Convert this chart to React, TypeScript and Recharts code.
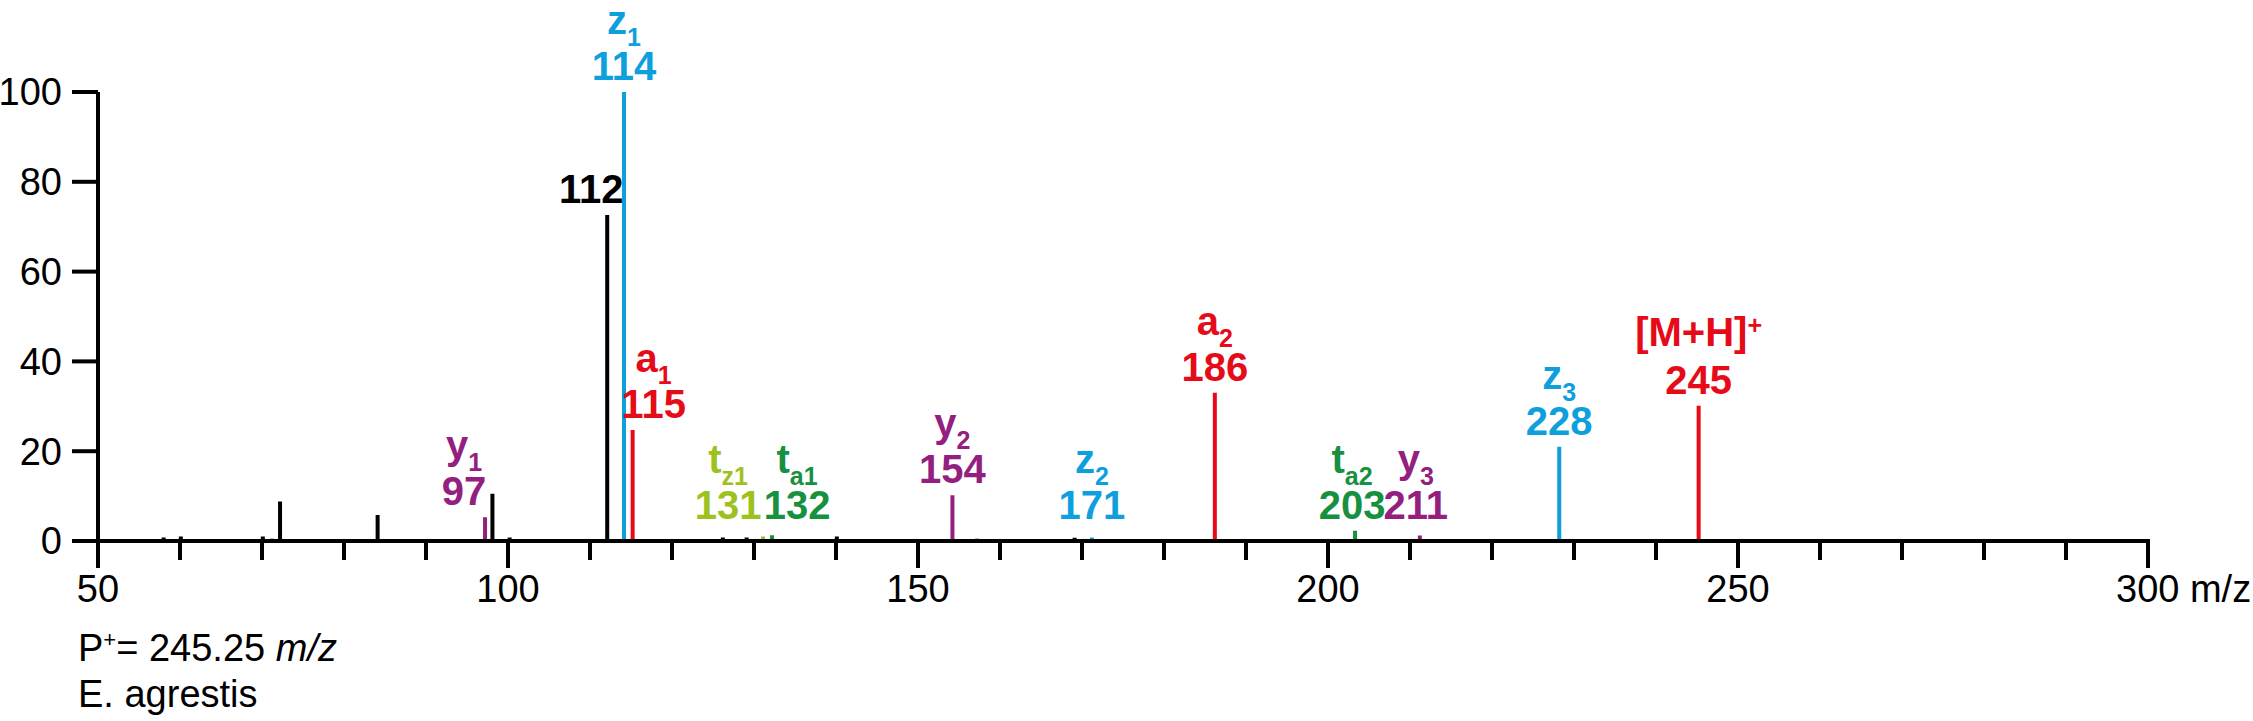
import React from 'react'
import { ComposedChart, Line, Scatter, XAxis, YAxis } from 'recharts'

const FONT = 'Arial, "Liberation Sans", Helvetica, sans-serif'

// [m/z, relative intensity %]
const otherPeaks: [number, number][] = [
  [58.0, 0.8], [60.1, 1.0], [70.1, 1.0], [71.2, 0.5], [72.2, 8.8], [84.1, 5.8],
  [98.1, 10.5], [100.2, 0.8], [112.1, 72.6], [126.2, 0.8], [129.1, 0.8],
  [140.1, 1.0], [157.2, 0.5], [169.1, 0.7], [194.1, 0.4],
]
const zPeaks: [number, number][] = [[114.15, 100], [171.2, 0.8], [228.2, 21.0]]
const aPeaks: [number, number][] = [[115.2, 24.7], [186.2, 33.0], [245.2, 30.1]]
const yPeaks: [number, number][] = [[97.2, 5.3], [154.2, 10.2], [211.2, 1.2]]
const tzPeaks: [number, number][] = [[131.1, 1.0]]
const taPeaks: [number, number][] = [[132.2, 1.3], [203.3, 2.3]]

// annotated peaks: m/z, intensity, shown number, ion name, subscript
const labels = [
  { mz: 112.1, h: 72.6, num: '112', ion: '', sub: '', kind: 'other' },
  { mz: 114.15, h: 100, num: '114', ion: 'z', sub: '1', kind: 'z' },
  { mz: 115.2, h: 24.7, num: '115', ion: 'a', sub: '1', kind: 'a' },
  { mz: 97.2, h: 5.3, num: '97', ion: 'y', sub: '1', kind: 'y' },
  { mz: 131.1, h: 1.0, num: '131', ion: 't', sub: 'z1', kind: 'tz' },
  { mz: 132.2, h: 1.3, num: '132', ion: 't', sub: 'a1', kind: 'ta' },
  { mz: 154.2, h: 10.2, num: '154', ion: 'y', sub: '2', kind: 'y' },
  { mz: 171.2, h: 0.8, num: '171', ion: 'z', sub: '2', kind: 'z' },
  { mz: 186.2, h: 33.0, num: '186', ion: 'a', sub: '2', kind: 'a' },
  { mz: 203.3, h: 2.3, num: '203', ion: 't', sub: 'a2', kind: 'ta' },
  { mz: 211.2, h: 1.2, num: '211', ion: 'y', sub: '3', kind: 'y' },
  { mz: 228.2, h: 21.0, num: '228', ion: 'z', sub: '3', kind: 'z' },
  { mz: 245.2, h: 30.1, num: '245', ion: '[M+H]', sup: '+', sub: '', kind: 'a' },
]

const X_TICKS = [50, 60, 70, 80, 90, 100, 110, 120, 130, 140, 150, 160, 170, 180, 190, 200, 210, 220, 230, 240, 250, 260, 270, 280, 290, 300]
const X_MAJOR = [50, 100, 150, 200, 250, 300]
const Y_TICKS = [0, 20, 40, 60, 80, 100]

const COLORS: Record<string, string> = {
  other: '#000000',
  z: '#0e9fdd',
  a: '#e50b18',
  y: '#93207f',
  tz: '#9dc21e',
  ta: '#17903f',
}

// pixel nudges so crowded labels don't collide
const LABEL_DX: Record<string, number> = { '112': -16, '115': 21, '97': -21, '131': -35, '132': 25, '203': -3, '211': -4 }

// vertical stick for each peak, broken by nulls
const sticks = (peaks: [number, number][]) =>
  peaks.flatMap(([mz, v]) => [{ mz, v: 0 }, { mz, v }, { mz, v: null }])

const labelData = labels.map(l => ({ ...l, v: Math.max(l.h, 2.2) }))

const PeakLabel = (props: any) => {
  const { cx, cy, payload } = props
  const color = COLORS[payload.kind]
  const x = cx + (LABEL_DX[payload.num] ?? 0)
  const base = cy - 12
  return (
    <g fontFamily={FONT} fontWeight="bold" fill={color}>
      <text x={x} y={base} textAnchor="middle" fontSize={40}>{payload.num}</text>
      {payload.ion && (
        <text x={x} y={base - (payload.sup ? 48 : 46)} textAnchor="middle" fontSize={40}>
          {payload.ion}
          {payload.sub && <tspan fontSize={25} dy={12}>{payload.sub}</tspan>}
          {payload.sup && <tspan fontSize={25} dy={-12}>{payload.sup}</tspan>}
        </text>
      )}
    </g>
  )
}

const XTick = ({ x, y, payload }: any) => {
  const v = payload.value
  const major = X_MAJOR.includes(v)
  return (
    <g>
      <line x1={x} x2={x} y1={y} y2={y + (major ? 27 : 19)} stroke="#000" strokeWidth={4} />
      {major && (
        v === 300
          ? <text x={x - 32} y={y + 61} fontSize={38} fontFamily={FONT} fill="#000">300 m/z</text>
          : <text x={x} y={y + 61} fontSize={38} fontFamily={FONT} fill="#000" textAnchor="middle">{v}</text>
      )}
    </g>
  )
}

const series: [string, [number, number][]][] = [
  ['other', otherPeaks], ['y', yPeaks], ['tz', tzPeaks], ['ta', taPeaks], ['z', zPeaks], ['a', aPeaks],
]

export default function App() {
  return (
    <div style={{ position: 'relative', width: 2253, height: 721, background: '#fff', overflow: 'hidden' }}>
      <style>{'body{margin:0;overflow:hidden}'}</style>
      <ComposedChart width={2253} height={721} margin={{ top: 92, right: 105, left: 38, bottom: 120 }}>
        <XAxis
          type="number" dataKey="mz" domain={[50, 300]} ticks={X_TICKS} interval={0}
          allowDataOverflow height={60} tickSize={0} tickMargin={0} tickLine={false}
          axisLine={{ stroke: '#000', strokeWidth: 4, strokeLinecap: 'square' }}
          tick={<XTick />}
        />
        <YAxis
          type="number" dataKey="v" domain={[0, 100]} ticks={Y_TICKS} interval={0} width={60}
          tickSize={26} tickMargin={10}
          axisLine={{ stroke: '#000', strokeWidth: 4 }}
          tickLine={{ stroke: '#000', strokeWidth: 4 }}
          tick={{ fill: '#000', fontSize: 38, fontFamily: FONT }}
        />
        {series.map(([k, peaks]) => (
          <Line
            key={k} data={sticks(peaks)} dataKey="v" type="linear" stroke={COLORS[k]} strokeWidth={4}
            dot={false} activeDot={false} connectNulls={false} isAnimationActive={false}
          />
        ))}
        <Scatter data={labelData} dataKey="v" shape={(p: any) => <PeakLabel {...p} />} isAnimationActive={false} />
      </ComposedChart>
      <svg width={2253} height={721} style={{ position: 'absolute', left: 0, top: 0, pointerEvents: 'none' }}>
        <text x={78} y={661} fontSize={38} fontFamily={FONT} fill="#000">
          P<tspan fontSize={22} dy={-14}>+</tspan><tspan dy={14}>= 245.25 </tspan><tspan fontStyle="italic">m/z</tspan>
        </text>
        <text x={78} y={707} fontSize={38} fontFamily={FONT} fill="#000">E. agrestis</text>
      </svg>
    </div>
  )
}
